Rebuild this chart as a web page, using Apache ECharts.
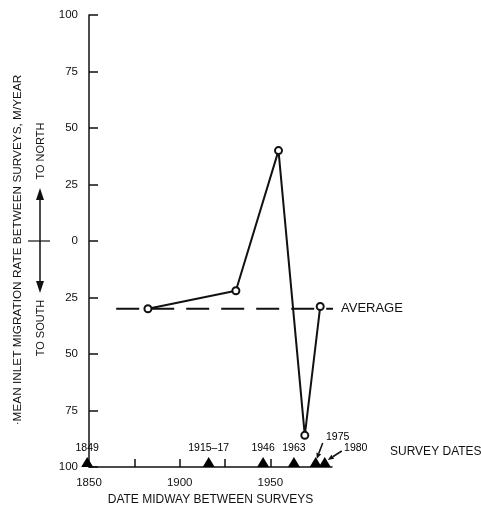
<!DOCTYPE html>
<html><head><meta charset="utf-8">
<script src="https://cdn.jsdelivr.net/npm/echarts@6/dist/echarts.min.js"></script>
<style>html,body{margin:0;padding:0;background:#fff}#c{width:481px;height:507px}</style>
</head><body><div id="c"></div>
<script>
// ---- data ----
const midYears = [1882.5, 1931, 1954.5, 1969, 1977.5];
const rates = [-30, -22, 40, -86, -29];
const averageRate = -30;
const averageSpan = [1865, 1997];
const surveyYears = [1849, 1916, 1946, 1963, 1975, 1980];
const surveyLabels = ['1849', '1915–17', '1946', '1963', '1975', '1980'];
const xTickValues = [1875, 1900, 1925, 1950];
const xLabelValues = [1850, 1900, 1950];
const yTitle = '·MEAN INLET MIGRATION RATE BETWEEN SURVEYS, M/YEAR';
const xTitle = 'DATE MIDWAY BETWEEN SURVEYS';

const FONT = '"Liberation Sans", Arial, sans-serif';
const INK = '#111';
const chart = echarts.init(document.getElementById('c'), null, {renderer: 'canvas'});

const labelOffsets = {1975: [22, -11], 1980: [31, 0]};

const option = {
  animation: false,
  backgroundColor: '#fff',
  textStyle: {fontFamily: FONT, color: INK},
  grid: {left: 89, right: 149, top: 15, bottom: 40, outerBoundsMode: 'none'},
  xAxis: {
    type: 'value', min: 1850, max: 1984,
    axisLine: {show: true, onZero: false, lineStyle: {color: INK, width: 1.5}},
    axisTick: {show: true, inside: true, length: 8, customValues: xTickValues, lineStyle: {color: INK, width: 1.5}},
    axisLabel: {customValues: xLabelValues, formatter: v => String(v), margin: 10, fontSize: 11.5, color: INK, fontFamily: FONT},
    splitLine: {show: false},
    name: xTitle, nameLocation: 'middle', nameGap: 19,
    nameTextStyle: {fontSize: 12, color: INK, fontFamily: FONT, verticalAlign: 'top'}
  },
  yAxis: {
    type: 'value', min: -100, max: 100, interval: 25,
    axisLine: {show: true, lineStyle: {color: INK, width: 1.5}},
    axisTick: {show: true, inside: true, length: 9, lineStyle: {color: INK, width: 1.5}},
    axisLabel: {formatter: v => String(Math.abs(v)), margin: 11, fontSize: 11.5, color: INK, fontFamily: FONT},
    splitLine: {show: false}
  },
  series: [
    {
      type: 'line', z: 2, clip: false, silent: true,
      data: averageSpan.map(x => [x, averageRate]),
      symbol: 'none',
      lineStyle: {color: INK, width: 2, type: [23, 12]},
      endLabel: {show: true, formatter: 'AVERAGE', distance: 8, fontSize: 13, color: INK, fontFamily: FONT}
    },
    {
      type: 'line', z: 3, clip: false,
      data: midYears.map((x, i) => [x, rates[i]]),
      symbol: 'circle', symbolSize: 7,
      lineStyle: {color: INK, width: 2},
      itemStyle: {color: '#fff', borderColor: INK, borderWidth: 2}
    },
    {
      type: 'scatter', z: 4, clip: false,
      data: surveyYears.map((x, i) => {
        const d = {value: [x, -100]};
        if (labelOffsets[x]) d.label = {offset: labelOffsets[x]};
        return d;
      }),
      symbol: 'triangle', symbolSize: [12, 10], symbolOffset: [0, -5],
      itemStyle: {color: '#000', opacity: 1},
      label: {
        show: true, position: 'top', distance: 3, fontSize: 10.5, color: '#000', fontFamily: FONT,
        formatter: p => surveyLabels[p.dataIndex]
      },
      emphasis: {disabled: true}
    }
  ]
};
chart.setOption(option);

function arrow(x1, y1, x2, y2, headLen, headW) {
  const ang = Math.atan2(y2 - y1, x2 - x1);
  const bx = x2 - headLen * Math.cos(ang), by = y2 - headLen * Math.sin(ang);
  const px = -Math.sin(ang) * headW / 2, py = Math.cos(ang) * headW / 2;
  return [
    {type: 'line', shape: {x1: x1, y1: y1, x2: bx, y2: by}, style: {stroke: INK, lineWidth: 1.5}},
    {type: 'polygon', shape: {points: [[x2, y2], [bx + px, by + py], [bx - px, by - py]]}, style: {fill: INK}}
  ];
}

const zeroY = chart.convertToPixel({gridIndex: 0}, [1850, 0])[1];
const p75 = chart.convertToPixel({gridIndex: 0}, [1975, -100]);
const p80 = chart.convertToPixel({gridIndex: 0}, [1980, -100]);
const ax = 40;

const graphics = [
  {type: 'text', x: 18, y: 250, rotation: Math.PI / 2,
   style: {text: yTitle, fontSize: 11.8, fontFamily: FONT, fill: INK, align: 'center', verticalAlign: 'middle'}},
  {type: 'text', x: 41, y: zeroY - 90, rotation: Math.PI / 2,
   style: {text: 'TO NORTH', fontSize: 11, fontFamily: FONT, fill: INK, align: 'center', verticalAlign: 'middle'}},
  {type: 'text', x: 41, y: zeroY + 87, rotation: Math.PI / 2,
   style: {text: 'TO SOUTH', fontSize: 11, fontFamily: FONT, fill: INK, align: 'center', verticalAlign: 'middle'}},
  {type: 'line', shape: {x1: 28, y1: zeroY, x2: 50, y2: zeroY}, style: {stroke: INK, lineWidth: 1.2}},
  ...arrow(ax, zeroY, ax, zeroY - 53, 12, 8),
  ...arrow(ax, zeroY, ax, zeroY + 52, 12, 8),
  ...arrow(p75[0] + 7, p75[1] - 24, p75[0] + 1, p75[1] - 8, 6, 5),
  ...arrow(p80[0] + 17, p80[1] - 16, p80[0] + 3, p80[1] - 7, 6, 5),
  {type: 'text', x: 390, y: p75[1] - 15,
   style: {text: 'SURVEY DATES', fontSize: 12, fontFamily: FONT, fill: INK, align: 'left', verticalAlign: 'middle'}}
];
chart.setOption({graphic: graphics});
</script>
</body></html>
